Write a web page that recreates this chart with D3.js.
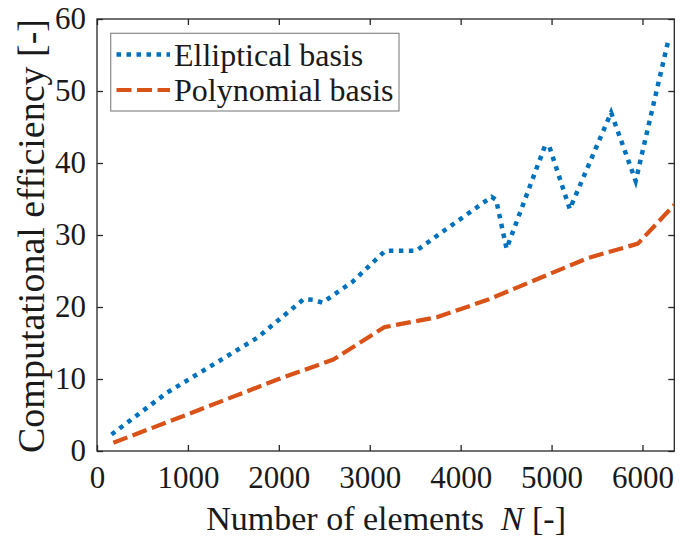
<!DOCTYPE html>
<html>
<head>
<meta charset="utf-8">
<script src="https://cdn.jsdelivr.net/npm/d3@7"></script>
<style>
  html, body { margin: 0; padding: 0; background: #fff; }
  svg { display: block; }
  text { font-family: "Liberation Serif", "Times New Roman", serif; fill: #1a1a1a; }
</style>
</head>
<body>
<svg id="chart" width="693" height="539"></svg>
<script>
// Elliptical basis: number of elements vs. computational efficiency
const ellipticalN = [160, 770, 1760, 2275, 2380, 2480, 2810, 3170, 3510, 3840, 4340, 4390, 4505, 4925, 4975, 5200, 5655, 5925, 6280];
const ellipticalEff = [2.3, 8.1, 15.7, 21.1, 21.0, 20.6, 23.5, 27.8, 27.8, 30.8, 35.3, 34.9, 28.1, 42.3, 42.3, 33.6, 47.0, 37.5, 56.8];

// Polynomial basis
const polynomialN = [180, 1000, 2000, 2600, 3160, 3745, 4296, 5000, 5400, 5950, 6350];
const polynomialEff = [1.15, 5.1, 10.0, 12.7, 17.2, 18.6, 21.0, 24.7, 26.8, 28.8, 34.2];

const xTicks = [0, 1000, 2000, 3000, 4000, 5000, 6000];
const yTicks = [0, 10, 20, 30, 40, 50, 60];
const seriesNames = ["Elliptical basis", "Polynomial basis"];
const seriesColors = ["#0072BD", "#D95319"];

const svg = d3.select("#chart");
const plotLeft = 97, plotRight = 674.3, plotTop = 19, plotBottom = 451;

const x = d3.scaleLinear().domain([0, 6350]).range([plotLeft, plotRight]);
const y = d3.scaleLinear().domain([0, 60]).range([plotBottom, plotTop]);

const axisColor = "#262626";
const tickFont = 31;

// clip for data lines
svg.append("clipPath").attr("id", "plotClip")
  .append("rect").attr("x", plotLeft).attr("y", plotTop)
  .attr("width", plotRight - plotLeft).attr("height", plotBottom - plotTop);

function styleAxis(g) {
  g.selectAll(".domain").remove();
  g.selectAll(".tick line").attr("stroke", axisColor).attr("stroke-width", 1.3);
  g.selectAll(".tick text")
    .style("font-family", '"Liberation Serif", "Times New Roman", serif')
    .style("font-size", tickFont + "px")
    .attr("fill", "#1a1a1a");
}

svg.append("g").attr("transform", `translate(0,${plotBottom})`)
  .call(d3.axisBottom(x).tickValues(xTicks).tickFormat(d3.format("d")).tickSize(-6).tickPadding(15))
  .call(styleAxis);
svg.append("g").attr("transform", `translate(0,${plotTop})`)
  .call(d3.axisTop(x).tickValues(xTicks).tickFormat("").tickSize(-6))
  .call(styleAxis);
svg.append("g").attr("transform", `translate(${plotLeft},0)`)
  .call(d3.axisLeft(y).tickValues(yTicks).tickFormat(d3.format("d")).tickSize(-6).tickPadding(11))
  .call(styleAxis);
svg.append("g").attr("transform", `translate(${plotRight},0)`)
  .call(d3.axisRight(y).tickValues(yTicks).tickFormat("").tickSize(-6))
  .call(styleAxis);

svg.append("rect")
  .attr("x", plotLeft).attr("y", plotTop)
  .attr("width", plotRight - plotLeft).attr("height", plotBottom - plotTop)
  .attr("fill", "none").attr("stroke", axisColor).attr("stroke-width", 1.3);

// data lines
const line = d3.line().x(d => x(d[0])).y(d => y(d[1]));
const ellData = ellipticalN.map((n, i) => [n, ellipticalEff[i]]);
const polyData = polynomialN.map((n, i) => [n, polynomialEff[i]]);

const plot = svg.append("g").attr("clip-path", "url(#plotClip)");
plot.append("path").datum(polyData)
  .attr("d", line).attr("fill", "none")
  .attr("stroke", seriesColors[1]).attr("stroke-width", 4.2)
  .attr("stroke-dasharray", "15,5.5").attr("stroke-linejoin", "round");
plot.append("path").datum(ellData)
  .attr("d", line).attr("fill", "none")
  .attr("stroke", seriesColors[0]).attr("stroke-width", 4.5)
  .attr("stroke-dasharray", "4.5,5.5").attr("stroke-linejoin", "miter");

// legend
const legend = svg.append("g");
legend.append("rect")
  .attr("x", 110.7).attr("y", 33.3).attr("width", 288.3).attr("height", 77.7)
  .attr("fill", "#fff").attr("stroke", "#8a8a8a").attr("stroke-width", 1.2);
const legendRows = [
  { name: seriesNames[0], color: seriesColors[0], dash: "4.5,5.5", w: 4.5, y: 54.5 },
  { name: seriesNames[1], color: seriesColors[1], dash: "15,5.5", w: 4.2, y: 90 }
];
legendRows.forEach(r => {
  legend.append("line")
    .attr("x1", 116.5).attr("x2", 170).attr("y1", r.y).attr("y2", r.y)
    .attr("stroke", r.color).attr("stroke-width", r.w).attr("stroke-dasharray", r.dash);
  legend.append("text")
    .attr("x", 174).attr("y", r.y + 11)
    .style("font-size", "32px")
    .text(r.name);
});

// axis labels
const xl = svg.append("text")
  .attr("x", (plotLeft + plotRight) / 2 + 0.5).attr("y", 530)
  .attr("text-anchor", "middle")
  .style("font-size", "34px");
xl.append("tspan").text("Number of elements\u00A0\u00A0");
xl.append("tspan").style("font-style", "italic").text("N");
xl.append("tspan").text(" [-]");

svg.append("text")
  .attr("transform", "translate(44,236) rotate(-90)")
  .attr("text-anchor", "middle")
  .style("font-size", "38px")
  .text("Computational efficiency [-]");
</script>
</body>
</html>
